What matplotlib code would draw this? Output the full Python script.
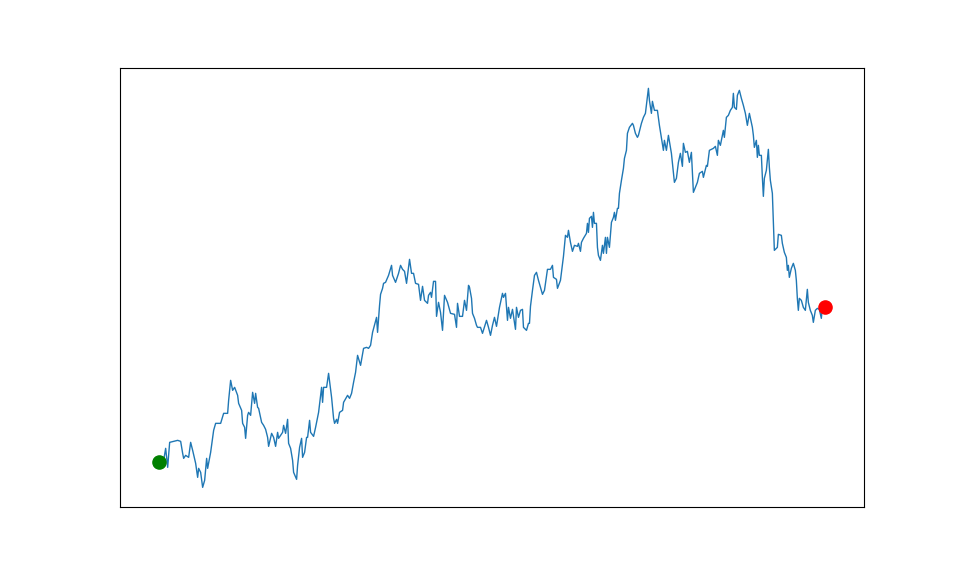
import numpy as np
import matplotlib
matplotlib.use('Agg')
import matplotlib.pyplot as plt

# random-walk style series
day = [0, 3, 5, 7, 9, 11, 19, 22, 24, 25, 27, 30, 32, 34, 37, 39, 40, 42, 44, 46,
       48, 49, 52, 55, 57, 62, 65, 69, 70, 72, 74, 76, 79, 80, 83, 84, 86, 87, 89, 90,
       92, 94, 96, 97, 99, 100, 103, 105, 107, 109, 110, 113, 115, 117, 119, 120, 124, 125, 127, 129,
       130, 132, 134, 135, 138, 139, 141, 143, 144, 146, 148, 149, 151, 152, 155, 157, 160, 163, 164, 165,
       168, 170, 173, 175, 176, 178, 179, 181, 184, 185, 189, 191, 193, 195, 197, 199, 202, 205, 208, 210,
       212, 214, 218, 219, 221, 222, 224, 225, 227, 230, 233, 234, 237, 240, 242, 244, 246, 248, 251, 253,
       255, 257, 260, 262, 264, 266, 269, 270, 272, 273, 275, 277, 278, 280, 282, 284, 286, 289, 292, 296,
       298, 299, 301, 304, 306, 308, 310, 311, 313, 314, 316, 318, 319, 322, 324, 328, 330, 332, 334, 336,
       338, 341, 344, 345, 347, 349, 350, 352, 354, 357, 358, 360, 362, 364, 365, 368, 370, 371, 372, 374,
       376, 378, 380, 382, 384, 386, 389, 392, 394, 395, 398, 399, 402, 405, 407, 409, 410, 412, 414, 416,
       419, 420, 422, 423, 425, 428, 429, 430, 431, 433, 434, 435, 436, 438, 439, 440, 442, 444, 445, 447,
       448, 449, 451, 453, 455, 456, 457, 459, 460, 461, 463, 465, 466, 468, 469, 471, 474, 475, 477, 479,
       480, 483, 485, 487, 490, 491, 493, 494, 496, 499, 501, 505, 506, 508, 510, 513, 515, 516, 518, 520,
       522, 524, 525, 527, 529, 531, 533, 535, 539, 541, 544, 545, 548, 549, 551, 555, 557, 559, 560, 562,
       565, 566, 568, 570, 572, 574, 575, 576, 578, 579, 581, 583, 585, 587, 589, 591, 594, 595, 596, 598,
       599, 600, 601, 603, 604, 605, 606, 608, 610, 611, 612, 614, 615, 616, 619, 620, 623, 624, 626, 628,
       629, 630, 631, 633, 635, 637, 638, 639, 640, 641, 643, 645, 647, 649, 650, 652, 654, 655, 657, 659,
       661, 663, 664, 667]
price = [45, 39, 47, 59, 40, 65, 67, 66, 54, 49, 52, 50, 65, 57, 44, 30, 39, 35, 20, 27,
         49, 39, 55, 77, 84, 84, 94, 94, 107, 127, 117, 120, 112, 104, 97, 84, 80, 69, 92, 95,
         92, 115, 104, 114, 100, 99, 85, 82, 78, 70, 61, 74, 70, 61, 75, 69, 75, 82, 74, 88,
         64, 59, 47, 35, 28, 42, 60, 69, 50, 55, 70, 70, 87, 75, 71, 80, 95, 120, 105, 120,
         120, 134, 110, 89, 84, 88, 84, 95, 97, 105, 112, 109, 114, 125, 135, 152, 142, 159, 160, 159,
         162, 175, 190, 175, 202, 213, 219, 224, 225, 232, 242, 232, 225, 234, 242, 238, 236, 224, 248, 234,
         234, 224, 223, 207, 221, 207, 204, 212, 215, 210, 226, 226, 191, 205, 195, 177, 212, 205, 194, 193,
         180, 204, 191, 191, 207, 197, 222, 220, 209, 194, 189, 182, 180, 180, 174, 187, 180, 172, 182, 190,
         181, 200, 214, 210, 214, 187, 200, 189, 198, 178, 200, 190, 197, 198, 180, 177, 184, 184, 201, 217,
         232, 235, 227, 220, 213, 217, 238, 238, 242, 230, 228, 219, 227, 251, 272, 270, 277, 265, 256, 262,
         261, 264, 256, 265, 269, 274, 284, 275, 289, 291, 280, 295, 284, 284, 260, 252, 247, 262, 254, 270,
         254, 270, 260, 285, 290, 295, 287, 299, 299, 314, 327, 339, 349, 357, 374, 380, 384, 382, 374, 370,
         372, 384, 390, 394, 419, 407, 394, 406, 397, 397, 382, 357, 367, 357, 372, 354, 334, 325, 329, 345,
         354, 341, 364, 355, 356, 345, 355, 315, 325, 334, 336, 330, 342, 341, 357, 359, 361, 352, 367, 362,
         377, 370, 390, 392, 397, 400, 414, 400, 398, 412, 417, 409, 402, 394, 382, 394, 380, 372, 360, 367,
         350, 362, 352, 352, 330, 311, 329, 337, 358, 340, 327, 314, 287, 257, 260, 273, 272, 264, 255, 250,
         237, 242, 230, 239, 244, 237, 227, 209, 197, 209, 207, 200, 197, 218, 205, 197, 192, 185, 197, 199,
         198, 189, 200, 200]

fig, ax = plt.subplots(figsize=(9.6, 5.7), dpi=100)
ax.plot(day, price, color='tab:blue', linewidth=1.0)
ax.scatter(day[0], price[0], color='green', s=90, zorder=3)
ax.scatter(day[-1], price[-1], color='red', s=90, zorder=3)
ax.margins(x=0.058)
ax.set_xticks([])
ax.set_yticks([])
plt.savefig('out.png', dpi=100)
